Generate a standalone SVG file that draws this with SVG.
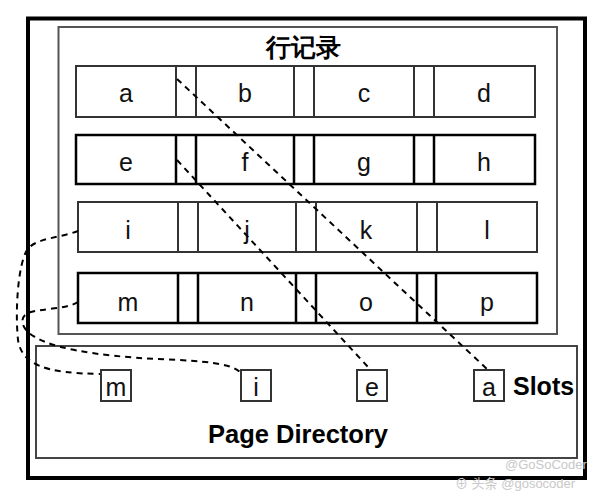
<svg xmlns="http://www.w3.org/2000/svg" width="604" height="496" viewBox="0 0 604 496">
<style>
.box{fill:#fff;stroke:#333;stroke-width:2}
.boxb{fill:#fff;stroke:#000;stroke-width:2.5}
.cell{font-family:"Liberation Sans",Arial,sans-serif;font-size:25px;fill:#111;text-anchor:middle}
.slot{fill:#fff;stroke:#333;stroke-width:2}
.bold{font-family:"Liberation Sans",Arial,sans-serif;font-weight:bold;fill:#000}
.dash{fill:none;stroke:#000;stroke-width:2;stroke-dasharray:6 5}
.wm{font-family:"Liberation Sans","Noto Sans CJK SC",sans-serif;font-size:13px;fill:#c8c8c8}
</style>
<rect width="604" height="496" fill="#fff"/>
<g id="page">
<rect x="28" y="18.5" width="557" height="459.5" fill="none" stroke="#000" stroke-width="4"/>
</g>
<g id="row-records">
<rect x="58.5" y="27" width="498.5" height="307" fill="none" stroke="#555" stroke-width="2"/>
<text class="bold" x="303" y="56" font-size="25" text-anchor="middle" font-family="'Noto Sans CJK SC',sans-serif">行记录</text>
</g>
<g id="row1">
<rect class="box" x="76" y="66" width="459" height="51"/>
<path d="M176 66V117M196 66V117M294 66V117M314 66V117M414 66V117M434 66V117" stroke="#333" stroke-width="2"/>
<text class="cell" x="126" y="102">a</text>
<text class="cell" x="245" y="102">b</text>
<text class="cell" x="364" y="102">c</text>
<text class="cell" x="484" y="102">d</text>
</g>
<g id="row2">
<rect class="boxb" x="76" y="135" width="459" height="49"/>
<path d="M176 135V184M196 135V184M294 135V184M314 135V184M414 135V184M434 135V184" stroke="#000" stroke-width="2.5"/>
<text class="cell" x="126" y="171">e</text>
<text class="cell" x="245" y="171">f</text>
<text class="cell" x="364" y="171">g</text>
<text class="cell" x="484" y="171">h</text>
</g>
<g id="row3">
<rect class="box" x="78" y="202" width="459" height="50"/>
<path d="M178 202V252M198 202V252M296 202V252M316 202V252M417 202V252M437 202V252" stroke="#333" stroke-width="2"/>
<text class="cell" x="128" y="239">i</text>
<text class="cell" x="247" y="239">j</text>
<text class="cell" x="366" y="239">k</text>
<text class="cell" x="487" y="239">l</text>
</g>
<g id="row4">
<rect class="boxb" x="78" y="273" width="459" height="50"/>
<path d="M178 273V323M198 273V323M296 273V323M316 273V323M417 273V323M436 273V323" stroke="#000" stroke-width="2.5"/>
<text class="cell" x="128" y="311">m</text>
<text class="cell" x="247" y="311">n</text>
<text class="cell" x="366" y="311">o</text>
<text class="cell" x="487" y="311">p</text>
</g>
<g id="page-directory">
<rect x="36" y="346" width="541" height="112" fill="none" stroke="#444" stroke-width="2"/>
<text class="bold" x="298" y="443" font-size="25.5" text-anchor="middle">Page Directory</text>
<text class="bold" x="513" y="395" font-size="25">Slots</text>
</g>
<g id="slot-m">
<rect class="slot" x="101" y="370" width="30" height="31"/>
<text class="cell" x="116" y="396">m</text>
</g>
<g id="slot-i">
<rect class="slot" x="241" y="370" width="30" height="31"/>
<text class="cell" x="256" y="396">i</text>
</g>
<g id="slot-e">
<rect class="slot" x="357" y="370" width="30" height="31"/>
<text class="cell" x="372" y="396">e</text>
</g>
<g id="slot-a">
<rect class="slot" x="474" y="370" width="30" height="31"/>
<text class="cell" x="489" y="396">a</text>
</g>
<g id="connectors">
<path class="dash" d="M177 79L487 369"/>
<path class="dash" d="M177 160L368 367"/>
<path class="dash" d="M78 231C60 238 35 238 27 250C18 265 15 310 18 340C22 365 45 373 100 374"/>
<path class="dash" d="M78 302C65 310 40 308 28 313C18 318 22 330 35 337C60 352 120 358 180 360C215 362 232 365 240 372"/>
</g>
<g id="watermark">
<text class="wm" x="505" y="469">@GoSoCoder</text>
<text class="wm" x="455" y="488">⊕ 头条 @gosocoder</text>
</g>
</svg>
